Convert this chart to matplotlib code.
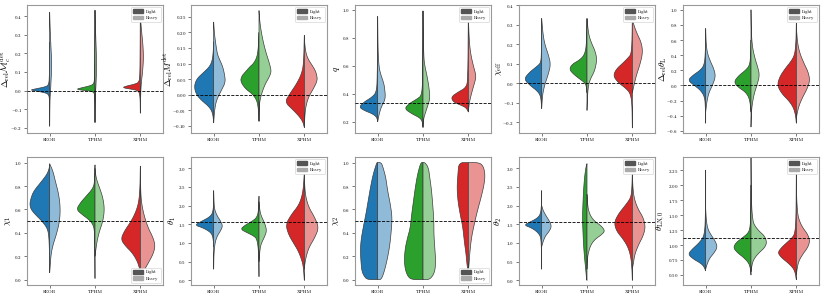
import matplotlib
matplotlib.use("Agg")
import matplotlib.pyplot as plt
from matplotlib.patches import Patch
import numpy as np

plt.rcParams['font.family'] = ['cmr10', 'DejaVu Serif']
plt.rcParams['mathtext.fontset'] = 'cm'
plt.rcParams['axes.formatter.use_mathtext'] = True

models = ["SEOB", "TPHM", "XPHM"]
colors_light = ["#1f77b4", "#2ca02c", "#d62728"]
colors_heavy = ["#8fbbd9", "#95cf95", "#ea9393"]

# ---- panel labels, limits, injected values ----
ylabels = [r"$\Delta_{\rm rel}\mathcal{M}_c^{\rm det}$", r"$\Delta_{\rm rel}M^{\rm det}$", r"$q$",
           r"$\chi_{\rm eff}$", r"$\Delta_{\rm rel}\theta_{\rm L}$",
           r"$\chi_1$", r"$\theta_1$", r"$\chi_2$", r"$\theta_2$", r"$\theta_{\rm LN,0}$"]
ylims = [(-0.227, 0.459), (-0.123, 0.288), (0.119, 1.033), (-0.256, 0.40), (-0.63, 1.064),
         (-0.046, 1.048), (-0.125, 3.30), (-0.046, 1.048), (-0.125, 3.30), (0.332, 2.47)]
injected = [0.0, 0.0, 1/3, 0.0, 0.0, 0.5, np.pi/2, 0.5, np.pi/2, 1.111]
ytick_steps = [0.1, 0.05, 0.2, 0.1, 0.2, 0.2, 0.5, 0.2, 0.5, 0.25]
legend_locs = ["upper right"] * 5 + ["lower right", "upper right", "lower right", "upper right", "upper right"]
ylabel_x = [-0.10, -0.118, -0.095, -0.11, -0.103, -0.1, -0.095, -0.1, -0.11, -0.118]

# ---- violin half profiles: (y, half-width) ----
# Panel 1: Delta_rel Mc
mc_seob_l = [(-0.19,0),(-0.05,0.003),(-0.02,0.02),(-0.01,0.12),(0.0,0.35),(0.004,0.42),(0.01,0.30),(0.02,0.10),(0.03,0.02),(0.08,0.005),(0.26,0)]
mc_seob_h = [(-0.19,0),(-0.05,0.005),(0.0,0.02),(0.05,0.03),(0.1,0.04),(0.15,0.045),(0.2,0.035),(0.28,0.02),(0.35,0.008),(0.42,0)]
mc_tphm_l = [(-0.17,0),(-0.03,0.004),(-0.005,0.03),(0.0,0.2),(0.007,0.42),(0.015,0.3),(0.025,0.12),(0.035,0.03),(0.06,0.01),(0.15,0.004),(0.43,0)]
mc_tphm_h = [(-0.17,0),(-0.02,0.008),(0.02,0.02),(0.08,0.03),(0.13,0.035),(0.2,0.03),(0.3,0.015),(0.43,0)]
mc_xphm_l = [(-0.12,0),(-0.03,0.004),(0.0,0.04),(0.008,0.2),(0.016,0.40),(0.025,0.3),(0.035,0.12),(0.045,0.03),(0.08,0.01),(0.2,0.004),(0.42,0)]
mc_xphm_h = [(-0.12,0),(0.0,0.01),(0.05,0.025),(0.1,0.05),(0.17,0.07),(0.24,0.06),(0.3,0.035),(0.36,0.012),(0.42,0)]
# Panel 2: Delta_rel M
m_seob_l = [(-0.09,0),(-0.06,0.02),(-0.04,0.09),(-0.018,0.27),(0.0,0.38),(0.025,0.43),(0.05,0.38),(0.073,0.21),(0.09,0.09),(0.11,0.03),(0.14,0.008),(0.17,0)]
m_seob_h = [(-0.09,0),(-0.05,0.02),(-0.018,0.06),(0.014,0.17),(0.04,0.26),(0.065,0.24),(0.09,0.2),(0.11,0.14),(0.13,0.08),(0.175,0.035),(0.2,0.015),(0.233,0)]
m_tphm_l = [(-0.085,0),(-0.05,0.01),(-0.018,0.045),(0.003,0.15),(0.019,0.3),(0.043,0.41),(0.06,0.38),(0.073,0.3),(0.09,0.2),(0.10,0.12),(0.12,0.045),(0.15,0.015),(0.2,0)]
m_tphm_h = [(-0.085,0),(-0.04,0.008),(-0.018,0.02),(0.009,0.07),(0.035,0.14),(0.055,0.22),(0.073,0.27),(0.09,0.25),(0.11,0.21),(0.142,0.14),(0.185,0.07),(0.23,0.02),(0.27,0)]
m_xphm_l = [(-0.105,0),(-0.088,0.03),(-0.072,0.1),(-0.05,0.24),(-0.024,0.43),(0.003,0.32),(0.035,0.17),(0.067,0.06),(0.1,0.015),(0.19,0)]
m_xphm_h = [(-0.105,0),(-0.07,0.01),(-0.04,0.03),(-0.008,0.09),(0.019,0.2),(0.046,0.29),(0.065,0.27),(0.078,0.24),(0.095,0.17),(0.11,0.1),(0.13,0.04),(0.16,0.01),(0.19,0)]
# Panel 3: q
q_seob_l = [(0.2,0),(0.233,0.02),(0.257,0.12),(0.28,0.3),(0.305,0.41),(0.34,0.3),(0.376,0.12),(0.41,0.03),(0.5,0.008),(0.95,0)]
q_seob_h = [(0.2,0),(0.257,0.035),(0.305,0.08),(0.34,0.14),(0.376,0.17),(0.42,0.16),(0.47,0.14),(0.54,0.065),(0.59,0.03),(0.7,0.008),(0.95,0)]
q_tphm_l = [(0.16,0),(0.21,0.02),(0.233,0.1),(0.257,0.25),(0.293,0.41),(0.33,0.3),(0.364,0.12),(0.388,0.03),(0.5,0.006),(0.99,0)]
q_tphm_h = [(0.16,0),(0.22,0.015),(0.245,0.035),(0.305,0.095),(0.35,0.14),(0.376,0.15),(0.42,0.14),(0.47,0.12),(0.54,0.08),(0.59,0.045),(0.66,0.015),(0.99,0)]
q_xphm_l = [(0.27,0),(0.3,0.05),(0.317,0.16),(0.34,0.33),(0.376,0.38),(0.41,0.23),(0.443,0.05),(0.5,0.01),(0.95,0)]
q_xphm_h = [(0.27,0),(0.33,0.02),(0.376,0.05),(0.448,0.11),(0.49,0.15),(0.53,0.17),(0.6,0.11),(0.686,0.05),(0.78,0.02),(0.95,0)]
# Panel 4: chi_eff
ce_seob_l = [(-0.13,0),(-0.067,0.02),(-0.041,0.095),(-0.015,0.24),(0.019,0.39),(0.053,0.28),(0.087,0.095),(0.104,0.02),(0.15,0.005),(0.33,0)]
ce_seob_h = [(-0.13,0),(-0.058,0.02),(-0.007,0.07),(0.044,0.145),(0.096,0.2),(0.147,0.145),(0.198,0.07),(0.25,0.03),(0.33,0)]
ce_tphm_l = [(-0.05,0),(-0.015,0.015),(0.002,0.05),(0.019,0.15),(0.044,0.29),(0.07,0.39),(0.096,0.33),(0.12,0.15),(0.147,0.05),(0.2,0.01),(0.33,0)]
ce_tphm_h = [(-0.14,0),(-0.024,0.02),(0.019,0.07),(0.062,0.17),(0.12,0.22),(0.164,0.18),(0.207,0.095),(0.25,0.035),(0.33,0)]
ce_xphm_l = [(-0.23,0),(-0.1,0.008),(-0.05,0.05),(-0.024,0.16),(0.002,0.31),(0.036,0.42),(0.07,0.36),(0.104,0.2),(0.13,0.09),(0.147,0.03),(0.2,0.008),(0.33,0)]
ce_xphm_h = [(-0.05,0),(-0.007,0.04),(0.044,0.095),(0.096,0.17),(0.156,0.23),(0.207,0.2),(0.258,0.095),(0.3,0.03),(0.33,0)]
# Panel 5: Delta_rel theta_L
tl_seob_l = [(-0.5,0),(-0.3,0.006),(-0.155,0.02),(-0.066,0.11),(0.0,0.25),(0.066,0.39),(0.13,0.29),(0.2,0.12),(0.265,0.035),(0.4,0.008),(0.75,0)]
tl_seob_h = [(-0.35,0),(-0.2,0.03),(-0.09,0.075),(0.0,0.15),(0.12,0.22),(0.22,0.18),(0.31,0.11),(0.42,0.04),(0.55,0.01),(0.75,0)]
tl_tphm_l = [(-0.35,0),(-0.177,0.03),(-0.088,0.12),(-0.03,0.27),(0.044,0.38),(0.13,0.27),(0.2,0.12),(0.265,0.03),(0.4,0.006),(0.6,0)]
tl_tphm_h = [(-0.55,0),(-0.35,0.01),(-0.24,0.03),(-0.11,0.07),(0.0,0.13),(0.13,0.19),(0.24,0.15),(0.35,0.09),(0.51,0.03),(0.7,0.008),(1.0,0)]
tl_xphm_l = [(-0.5,0),(-0.4,0.015),(-0.29,0.065),(-0.2,0.17),(-0.11,0.32),(0.0,0.42),(0.11,0.37),(0.22,0.25),(0.33,0.1),(0.42,0.03),(0.6,0.006),(0.82,0)]
tl_xphm_h = [(-0.45,0),(-0.375,0.015),(-0.265,0.06),(-0.155,0.14),(-0.044,0.24),(0.066,0.3),(0.18,0.26),(0.29,0.17),(0.42,0.08),(0.55,0.03),(0.7,0.008),(0.82,0)]
# Panel 6: chi_1
c1_seob_l = [(0.06,0),(0.25,0.005),(0.387,0.02),(0.444,0.06),(0.5,0.17),(0.558,0.32),(0.6,0.41),(0.644,0.44),(0.7,0.41),(0.758,0.35),(0.843,0.17),(0.9,0.06),(0.943,0.015),(0.98,0)]
c1_seob_h = [(0.06,0),(0.1,0.008),(0.216,0.03),(0.3,0.075),(0.387,0.15),(0.5,0.22),(0.615,0.235),(0.73,0.2),(0.843,0.125),(0.93,0.07),(0.99,0)]
c1_tphm_l = [(0.01,0),(0.25,0.004),(0.416,0.01),(0.473,0.045),(0.515,0.14),(0.558,0.29),(0.6,0.41),(0.658,0.32),(0.715,0.19),(0.77,0.065),(0.815,0.015),(0.9,0.004),(0.98,0)]
c1_tphm_h = [(0.2,0),(0.245,0.015),(0.33,0.045),(0.416,0.1),(0.5,0.175),(0.6,0.21),(0.7,0.175),(0.786,0.1),(0.843,0.045),(0.9,0.012),(0.95,0)]
c1_xphm_l = [(0.06,0),(0.1,0.02),(0.16,0.07),(0.23,0.18),(0.288,0.33),(0.345,0.43),(0.416,0.35),(0.5,0.2),(0.587,0.09),(0.672,0.03),(0.8,0.006),(0.97,0)]
c1_xphm_h = [(0.04,0),(0.074,0.075),(0.145,0.18),(0.216,0.28),(0.288,0.33),(0.36,0.28),(0.444,0.17),(0.558,0.075),(0.672,0.02),(0.8,0.005),(0.95,0)]
# Panel 7: theta_1
t1_seob_l = [(0.9,0),(1.1,0.01),(1.23,0.035),(1.32,0.11),(1.41,0.25),(1.48,0.42),(1.59,0.25),(1.68,0.11),(1.77,0.035),(1.9,0.01),(2.1,0)]
t1_seob_h = [(0.3,0),(0.7,0.005),(1.01,0.03),(1.19,0.08),(1.32,0.15),(1.455,0.2),(1.59,0.15),(1.72,0.08),(1.86,0.03),(2.0,0.01),(2.4,0)]
t1_tphm_l = [(0.1,0),(0.7,0.005),(1.1,0.04),(1.19,0.12),(1.28,0.27),(1.37,0.41),(1.48,0.3),(1.59,0.14),(1.68,0.05),(1.85,0.01),(2.25,0)]
t1_tphm_h = [(0.5,0),(0.875,0.025),(1.01,0.06),(1.16,0.12),(1.32,0.17),(1.5,0.135),(1.63,0.085),(1.77,0.035),(1.95,0.01),(2.1,0)]
t1_xphm_l = [(0.0,0),(0.34,0.02),(0.52,0.05),(0.79,0.135),(1.01,0.245),(1.23,0.35),(1.5,0.41),(1.77,0.28),(1.99,0.135),(2.21,0.06),(2.48,0.02),(2.9,0)]
t1_xphm_h = [(0.3,0),(0.43,0.01),(0.61,0.035),(0.875,0.1),(1.14,0.23),(1.41,0.32),(1.68,0.23),(1.95,0.1),(2.21,0.035),(2.5,0.008),(2.9,0)]
# Panel 8: chi_2
c2_seob_l = [(0.0,0),(0.0,0.23),(0.03,0.3),(0.074,0.35),(0.16,0.37),(0.245,0.38),(0.33,0.37),(0.444,0.32),(0.558,0.26),(0.672,0.21),(0.786,0.16),(0.9,0.1),(1.0,0.02),(1.0,0)]
c2_seob_h = [(0.0,0),(0.0,0.08),(0.074,0.15),(0.188,0.22),(0.3,0.27),(0.416,0.3),(0.53,0.32),(0.644,0.28),(0.758,0.22),(0.872,0.18),(0.957,0.12),(1.0,0.08),(1.0,0)]
c2_tphm_l = [(0.0,0),(0.0,0.25),(0.03,0.34),(0.1,0.4),(0.188,0.41),(0.273,0.39),(0.36,0.34),(0.444,0.28),(0.558,0.25),(0.672,0.21),(0.786,0.17),(0.9,0.12),(1.0,0.05),(1.0,0)]
c2_tphm_h = [(0.0,0),(0.0,0.15),(0.06,0.26),(0.16,0.28),(0.273,0.26),(0.387,0.24),(0.5,0.24),(0.615,0.22),(0.758,0.19),(0.872,0.15),(0.957,0.12),(1.0,0.045),(1.0,0)]
c2_xphm_l = [(0.06,0),(0.074,0.008),(0.13,0.03),(0.216,0.05),(0.33,0.09),(0.444,0.12),(0.558,0.18),(0.672,0.23),(0.786,0.25),(0.9,0.23),(1.0,0.21),(1.0,0)]
c2_xphm_h = [(0.06,0),(0.13,0.015),(0.245,0.036),(0.36,0.07),(0.473,0.13),(0.587,0.2),(0.7,0.28),(0.815,0.35),(0.9,0.37),(0.97,0.33),(1.0,0.24),(1.0,0)]
# Panel 9: theta_2
t2_seob_l = [(0.3,0),(0.8,0.005),(1.1,0.015),(1.21,0.04),(1.32,0.12),(1.41,0.24),(1.48,0.39),(1.57,0.24),(1.66,0.1),(1.77,0.025),(2.0,0.005),(2.4,0)]
t2_seob_h = [(0.9,0),(1.05,0.035),(1.19,0.085),(1.3,0.16),(1.44,0.22),(1.59,0.17),(1.72,0.1),(1.86,0.035),(2.0,0)]
t2_tphm_l = [(0.0,0),(0.03,0.01),(0.25,0.025),(0.61,0.055),(0.96,0.077),(1.32,0.09),(1.68,0.1),(2.04,0.09),(2.39,0.077),(2.75,0.055),(3.02,0.025),(3.12,0)]
t2_tphm_h = [(0.3,0),(0.6,0.01),(0.79,0.04),(0.96,0.09),(1.1,0.18),(1.21,0.31),(1.32,0.4),(1.46,0.31),(1.57,0.18),(1.68,0.1),(1.81,0.05),(1.95,0.02),(2.3,0)]
t2_xphm_l = [(0.0,0),(0.3,0.008),(0.61,0.03),(0.875,0.09),(1.1,0.2),(1.32,0.35),(1.545,0.4),(1.77,0.31),(1.99,0.165),(2.17,0.055),(2.3,0.02),(2.6,0.005),(2.9,0)]
t2_xphm_h = [(0.3,0),(0.47,0.025),(0.7,0.055),(0.96,0.14),(1.19,0.24),(1.43,0.29),(1.68,0.24),(1.9,0.13),(2.13,0.055),(2.4,0.015),(2.9,0)]
# Panel 10: theta_LN,0
tn_seob_l = [(0.57,0),(0.65,0.045),(0.705,0.13),(0.76,0.26),(0.844,0.39),(0.928,0.3),(1.01,0.18),(1.095,0.08),(1.18,0.03),(1.4,0.006),(2.25,0)]
tn_seob_h = [(0.6,0),(0.677,0.03),(0.777,0.085),(0.872,0.19),(0.967,0.26),(1.067,0.21),(1.167,0.12),(1.26,0.05),(1.4,0.015),(1.6,0)]
tn_tphm_l = [(0.5,0),(0.62,0.015),(0.705,0.055),(0.79,0.16),(0.872,0.3),(0.955,0.39),(1.04,0.33),(1.12,0.19),(1.2,0.06),(1.29,0.02),(1.5,0.005),(2.0,0)]
tn_tphm_h = [(0.55,0),(0.705,0.03),(0.79,0.085),(0.872,0.18),(0.955,0.3),(1.04,0.35),(1.15,0.3),(1.23,0.18),(1.32,0.085),(1.4,0.04),(1.7,0.008),(2.5,0)]
tn_xphm_l = [(0.42,0),(0.54,0.025),(0.62,0.075),(0.705,0.19),(0.79,0.33),(0.872,0.41),(0.955,0.33),(1.04,0.21),(1.12,0.09),(1.2,0.03),(1.45,0.006),(2.2,0)]
tn_xphm_h = [(0.5,0),(0.62,0.02),(0.733,0.055),(0.844,0.14),(0.955,0.25),(1.067,0.3),(1.18,0.25),(1.29,0.14),(1.4,0.07),(1.51,0.03),(1.8,0.005),(2.2,0)]

panel_profiles = [
    [(mc_seob_l, mc_seob_h), (mc_tphm_l, mc_tphm_h), (mc_xphm_l, mc_xphm_h)],
    [(m_seob_l, m_seob_h), (m_tphm_l, m_tphm_h), (m_xphm_l, m_xphm_h)],
    [(q_seob_l, q_seob_h), (q_tphm_l, q_tphm_h), (q_xphm_l, q_xphm_h)],
    [(ce_seob_l, ce_seob_h), (ce_tphm_l, ce_tphm_h), (ce_xphm_l, ce_xphm_h)],
    [(tl_seob_l, tl_seob_h), (tl_tphm_l, tl_tphm_h), (tl_xphm_l, tl_xphm_h)],
    [(c1_seob_l, c1_seob_h), (c1_tphm_l, c1_tphm_h), (c1_xphm_l, c1_xphm_h)],
    [(t1_seob_l, t1_seob_h), (t1_tphm_l, t1_tphm_h), (t1_xphm_l, t1_xphm_h)],
    [(c2_seob_l, c2_seob_h), (c2_tphm_l, c2_tphm_h), (c2_xphm_l, c2_xphm_h)],
    [(t2_seob_l, t2_seob_h), (t2_tphm_l, t2_tphm_h), (t2_xphm_l, t2_xphm_h)],
    [(tn_seob_l, tn_seob_h), (tn_tphm_l, tn_tphm_h), (tn_xphm_l, tn_xphm_h)],
]

EDGE = "#3c3c3c"


def smooth_outline(y, w, n_iter=2):
    # Chaikin corner cutting for a smoother drawn outline (endpoints kept)
    pts = np.column_stack([y, w])
    for _ in range(n_iter):
        new = [pts[0]]
        for a, b in zip(pts[:-1], pts[1:]):
            new.append(0.75 * a + 0.25 * b)
            new.append(0.25 * a + 0.75 * b)
        new.append(pts[-1])
        pts = np.array(new)
    return pts[:, 0], pts[:, 1]


def draw_half(ax, center, prof, side, color):
    arr = np.array(prof, dtype=float)
    y, w = smooth_outline(arr[:, 0], arr[:, 1])
    xs = center + side * w
    px = np.concatenate([xs, [center, center]])
    py = np.concatenate([y, [y[-1], y[0]]])
    ax.fill(px, py, facecolor=color, edgecolor=EDGE, linewidth=0.5, joinstyle='round')


W, H = 822, 296
fig = plt.figure(figsize=(W / 100, H / 100), dpi=100)

for i in range(10):
    row, col = divmod(i, 5)
    left = (27 + 164 * col) / W
    top_px = 5 if row == 0 else 157
    ax = fig.add_axes([left, 1 - (top_px + 128) / H, 136 / W, 128 / H])
    for j, (pl, ph) in enumerate(panel_profiles[i]):
        draw_half(ax, j, pl, -1, colors_light[j])
        draw_half(ax, j, ph, +1, colors_heavy[j])
    ax.axhline(injected[i], color="black", linestyle="--", linewidth=0.6, zorder=5)
    ax.set_xlim(-0.5, 2.5)
    ax.set_ylim(*ylims[i])
    ax.set_xticks(range(3))
    ax.set_xticklabels(models)
    ax.yaxis.set_major_locator(matplotlib.ticker.MultipleLocator(ytick_steps[i]))
    ax.set_ylabel(ylabels[i], fontsize=6.5)
    ax.yaxis.set_label_coords(ylabel_x[i], 0.5)
    ax.tick_params(labelsize=3.5, length=2, width=0.5, pad=1.5, color="#444444")
    for sp in ax.spines.values():
        sp.set_color("#999999")
        sp.set_linewidth(0.8)
    handles = [Patch(facecolor="#555555", edgecolor="#555555", label="Light"),
               Patch(facecolor="#aaaaaa", edgecolor="#aaaaaa", label="Heavy")]
    ax.legend(handles=handles, loc=legend_locs[i], fontsize=3.2, handlelength=2.2,
              handleheight=0.9, borderpad=0.5, labelspacing=0.4, framealpha=1,
              edgecolor="#cccccc", fancybox=True)
    ax.get_legend().get_frame().set_linewidth(0.4)

fig.savefig("out.png", dpi=100)
